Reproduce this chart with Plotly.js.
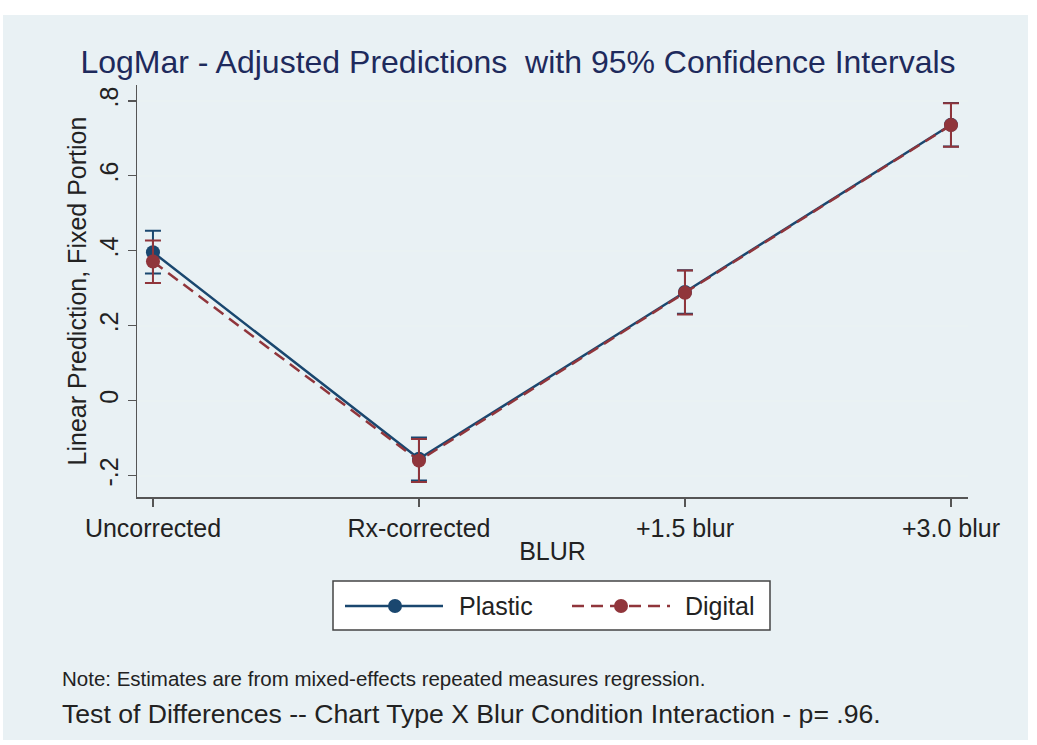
<!DOCTYPE html>
<html>
<head>
<meta charset="utf-8">
<script src="https://cdn.plot.ly/plotly-3.0.1.min.js"></script>
<style>html,body{margin:0;padding:0;background:#fff;}#chart{width:1037px;height:745px;}</style>
</head>
<body>
<div id="chart"></div>
<script>
// Data
const categories = ["Uncorrected", "Rx-corrected", "+1.5 blur", "+3.0 blur"];
const seriesNames = ["Plastic", "Digital"];
const plasticValues = [0.396, -0.155, 0.290, 0.736];
const plasticUpper = [0.453, -0.098, 0.348, 0.794];
const plasticLower = [0.339, -0.213, 0.232, 0.678];
const digitalValues = [0.371, -0.160, 0.288, 0.735];
const digitalUpper = [0.427, -0.102, 0.347, 0.793];
const digitalLower = [0.314, -0.217, 0.230, 0.677];
const yTickVals = [-0.2, 0, 0.2, 0.4, 0.6, 0.8];
const yTickText = ["-.2", "0", ".2", ".4", ".6", ".8"];

const navy = "#1a476f";
const maroon = "#90353b";
const digitalDash = "12px,7px";

function diff(a, b) { return a.map((v, i) => v - b[i]); }

const traces = [
  {
    x: categories, y: plasticValues, name: seriesNames[0], type: "scatter", mode: "lines+markers",
    line: {color: navy, width: 2.5},
    marker: {color: navy, size: 14},
    error_y: {type: "data", symmetric: false, array: diff(plasticUpper, plasticValues),
      arrayminus: diff(plasticValues, plasticLower), color: navy, thickness: 2, width: 8}
  },
  {
    x: categories, y: digitalValues, name: seriesNames[1], type: "scatter", mode: "lines+markers",
    line: {color: maroon, width: 2.5, dash: digitalDash},
    marker: {color: maroon, size: 14},
    error_y: {type: "data", symmetric: false, array: diff(digitalUpper, digitalValues),
      arrayminus: diff(digitalValues, digitalLower), color: maroon, thickness: 2, width: 8}
  }
];

const font = "Liberation Sans, Arial, sans-serif";
const ML = 137, MR = 69, MT = 85, MB = 248, W = 1037, H = 745;
const pw = W - ML - MR, ph = H - MT - MB;
const px = x => (x - ML) / pw;
const py = y => (H - MB - y) / ph;

const layout = {
  width: W, height: H,
  paper_bgcolor: "#ffffff",
  plot_bgcolor: "#ffffff",
  margin: {l: ML, r: MR, t: MT, b: MB, pad: 0},
  font: {family: font, color: "#222", size: 25},
  title: {text: "LogMar - Adjusted Predictions  with 95% Confidence Intervals",
    font: {family: font, size: 32, color: "#1e2a5c"},
    x: 518 / W, xref: "container", xanchor: "center", y: 1 - 62/H, yanchor: "middle"},
  showlegend: false,
  xaxis: {
    type: "category", range: [-0.06, 3.064],
    showgrid: false, zeroline: false,
    showline: true, linecolor: "#555", linewidth: 1.5,
    ticks: "outside", ticklen: 8, tickcolor: "#555", tickwidth: 1.5,
    tickfont: {family: font, size: 25, color: "#222"},
    title: {text: "BLUR", font: {family: font, size: 25, color: "#222"}, standoff: 2}
  },
  yaxis: {
    range: [-0.257, 0.842],
    tickvals: yTickVals, ticktext: yTickText, tickangle: -90,
    showgrid: true, gridcolor: "#eaf2f3", gridwidth: 2, zeroline: false,
    showline: true, linecolor: "#555", linewidth: 1.5,
    ticks: "outside", ticklen: 8, tickcolor: "#555", tickwidth: 1.5,
    tickfont: {family: font, size: 25, color: "#222"},
    title: {text: "Linear Prediction, Fixed Portion", font: {family: font, size: 25, color: "#222"}, standoff: 1}
  },
  shapes: [
    // background panel
    {type: "rect", xref: "paper", yref: "paper", layer: "below",
      x0: px(3), x1: px(1028), y0: py(740), y1: py(15),
      fillcolor: "#e9f1f4", line: {width: 0}},
    // legend box
    {type: "rect", xref: "paper", yref: "paper", layer: "above",
      x0: px(333), x1: px(770), y0: py(630), y1: py(581),
      fillcolor: "#ffffff", line: {color: "#444", width: 1.5}},
    // legend samples
    {type: "line", xref: "paper", yref: "paper", x0: px(345), x1: px(443), y0: py(606), y1: py(606),
      line: {color: navy, width: 2.5}},
    {type: "circle", xref: "paper", yref: "paper", x0: px(388), x1: px(402), y0: py(613), y1: py(599),
      fillcolor: navy, line: {color: navy, width: 0}},
    {type: "line", xref: "paper", yref: "paper", x0: px(572), x1: px(670), y0: py(606), y1: py(606),
      line: {color: maroon, width: 2.5, dash: digitalDash}},
    {type: "circle", xref: "paper", yref: "paper", x0: px(614), x1: px(628), y0: py(613), y1: py(599),
      fillcolor: maroon, line: {color: maroon, width: 0}}
  ],
  annotations: [
    {text: seriesNames[0], xref: "paper", yref: "paper", x: px(457), y: py(606),
      xanchor: "left", yanchor: "middle", showarrow: false, font: {family: font, size: 25, color: "#222"}},
    {text: seriesNames[1], xref: "paper", yref: "paper", x: px(683), y: py(606),
      xanchor: "left", yanchor: "middle", showarrow: false, font: {family: font, size: 25, color: "#222"}},
    {text: "Note: Estimates are from mixed-effects repeated measures regression.",
      xref: "paper", yref: "paper", x: px(60), y: py(678), xanchor: "left", yanchor: "middle",
      showarrow: false, font: {family: font, size: 20.5, color: "#222"}},
    {text: "Test of Differences -- Chart Type X Blur Condition Interaction - p= .96.",
      xref: "paper", yref: "paper", x: px(60), y: py(714), xanchor: "left", yanchor: "middle",
      showarrow: false, font: {family: font, size: 26.6, color: "#222"}}
  ]
};

Plotly.newPlot("chart", traces, layout, {displayModeBar: false, staticPlot: true});
</script>
</body>
</html>
